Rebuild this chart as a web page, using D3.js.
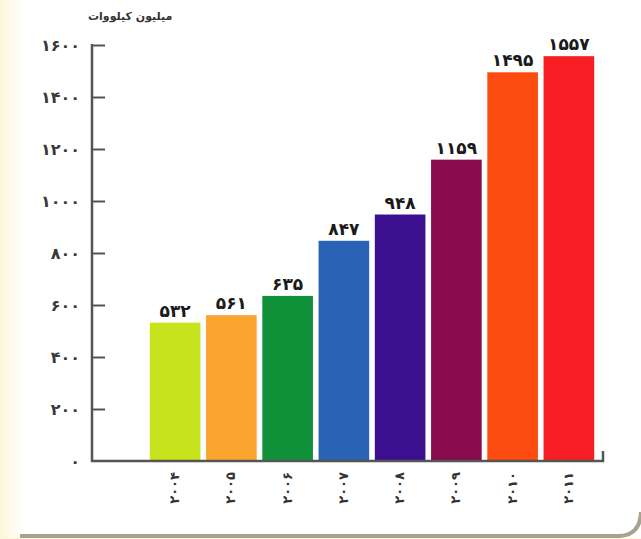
<!DOCTYPE html>
<html>
<head>
<meta charset="utf-8">
<script src="https://cdn.jsdelivr.net/npm/d3@7"></script>
<style>
  html, body { margin: 0; padding: 0; background: #ffffff; }
  svg { display: block; }
  text { font-family: "DejaVu Sans", sans-serif; }
</style>
</head>
<body>
<script>
// data
const years = ["۲۰۰۴", "۲۰۰۵", "۲۰۰۶", "۲۰۰۷", "۲۰۰۸", "۲۰۰۹", "۲۰۱۰", "۲۰۱۱"];
const values = [532, 561, 635, 847, 948, 1159, 1495, 1557];
const colors = ["#c6e31d", "#f9a42e", "#11903a", "#2a62b6", "#3b108f", "#8a0b50", "#fd4c10", "#f61e22"];
const yTicks = [0, 200, 400, 600, 800, 1000, 1200, 1400, 1600];
const unitLabel = "میلیون کیلووات";

const faDigits = "۰۱۲۳۴۵۶۷۸۹";
const fa = n => String(n).replace(/\d/g, c => faDigits[+c]);

const svg = d3.select("body").append("svg")
    .attr("width", 641)
    .attr("height", 539);

// pale yellow edge on the left, fading into the white card
const grad = svg.append("defs").append("linearGradient")
    .attr("id", "edge").attr("x1", 0).attr("x2", 1).attr("y1", 0).attr("y2", 0);
grad.append("stop").attr("offset", 0).attr("stop-color", "#fbf7d8");
grad.append("stop").attr("offset", 1).attr("stop-color", "#ffffff");
svg.append("rect")
    .attr("x", 0).attr("y", 0).attr("width", 26).attr("height", 539)
    .attr("fill", "url(#edge)");

// card bottom border with rounded right corner
svg.append("path")
    .attr("d", "M20,536 L618,536 Q640,536 641,512")
    .attr("fill", "none")
    .attr("stroke", "#a9a290")
    .attr("stroke-width", 4);
svg.append("rect")
    .attr("x", 0).attr("y", 538).attr("width", 641).attr("height", 1)
    .attr("fill", "#fbf7d8");

const x = d3.scaleBand()
    .domain(years)
    .range([147, 597])
    .paddingInner(0.1)
    .paddingOuter(0.05);

const y = d3.scaleLinear()
    .domain([0, 1600])
    .range([461, 45]);

// bars
svg.selectAll(".bar")
    .data(values)
    .enter().append("rect")
    .attr("class", "bar")
    .attr("x", (d, i) => x(years[i]))
    .attr("y", d => y(d))
    .attr("width", x.bandwidth())
    .attr("height", d => y(0) - y(d))
    .attr("fill", (d, i) => colors[i]);

// value labels
svg.selectAll(".val")
    .data(values)
    .enter().append("text")
    .attr("class", "val")
    .attr("x", (d, i) => x(years[i]) + x.bandwidth() / 2)
    .attr("y", d => y(d) - 6)
    .attr("text-anchor", "middle")
    .attr("font-size", 17)
    .attr("font-weight", "bold")
    .attr("fill", "#1a1a1a")
    .text(d => fa(d));

// y axis
const yAxis = d3.axisRight(y)
    .tickValues(yTicks.filter(t => t > 0))
    .tickSize(13)
    .tickFormat("");
const ya = svg.append("g")
    .attr("transform", "translate(92,0)")
    .call(yAxis);
ya.select(".domain").remove();
ya.selectAll(".tick line").attr("stroke", "#555").attr("stroke-width", 2);

svg.append("line")
    .attr("x1", 92).attr("x2", 92)
    .attr("y1", y(1600) - 1).attr("y2", y(0) + 1)
    .attr("stroke", "#555").attr("stroke-width", 2.5);

// baseline
svg.append("path")
    .attr("d", d3.line()([[91, y(0)], [603, y(0)], [603, y(0) - 10]]))
    .attr("fill", "none")
    .attr("stroke", "#555")
    .attr("stroke-width", 2.5);

// y tick labels
svg.selectAll(".ylab")
    .data(yTicks)
    .enter().append("text")
    .attr("class", "ylab")
    .attr("x", 80)
    .attr("y", d => y(d) + 6)
    .attr("text-anchor", "end")
    .attr("font-size", 16)
    .attr("font-weight", "bold")
    .attr("fill", "#3a3a3a")
    .text(d => fa(d));

// x labels, rotated
svg.selectAll(".xlab")
    .data(years)
    .enter().append("text")
    .attr("class", "xlab")
    .attr("transform", d => `translate(${x(d) + x.bandwidth() / 2 + 4},472) rotate(-90)`)
    .attr("text-anchor", "end")
    .attr("font-size", 13)
    .attr("font-weight", "bold")
    .attr("letter-spacing", 10)
    .attr("fill", "#333")
    .text(d => d);

// unit label
svg.append("text")
    .attr("x", 88)
    .attr("y", 20)
    .attr("text-anchor", "end")
    .attr("direction", "rtl")
    .attr("font-size", 11)
    .attr("font-weight", "bold")
    .attr("fill", "#333")
    .text(unitLabel);
</script>
</body>
</html>
